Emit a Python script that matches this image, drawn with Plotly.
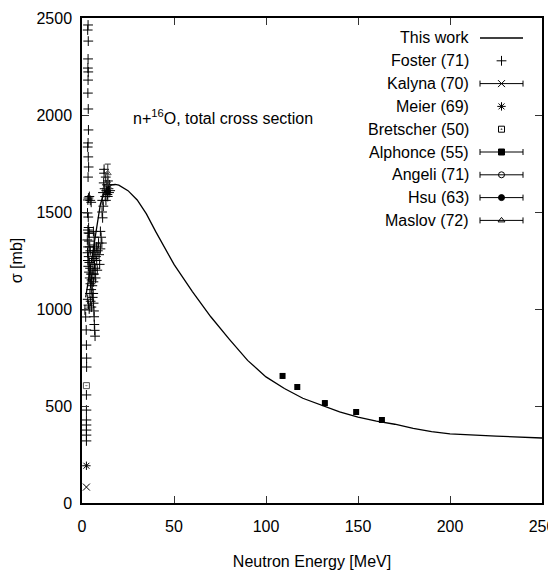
import plotly.graph_objects as go

# ---------------- data ----------------
# Model curve "This work"
curve_E = [2, 3, 4, 5, 6, 8, 10, 12, 14, 16, 18, 20, 25, 30, 35, 40, 45, 50, 60, 70,
           80, 90, 100, 110, 120, 130, 140, 150, 160, 170, 180, 190, 200, 225, 250]
curve_sigma = [1060, 1120, 1180, 1245, 1304, 1440, 1540, 1600, 1630, 1640, 1642, 1638,
               1610, 1562, 1490, 1400, 1315, 1230, 1090, 960, 845, 735, 650, 590, 540,
               503, 470, 443, 422, 406, 385, 368, 356, 345, 335]

# Foster (71)
foster_E = [1.6, 2.0, 2.3, 2.4, 2.5, 2.5, 2.4, 2.4, 2.4, 2.4, 2.4, 2.4, 2.4,
            3.3, 3.1, 3.4, 3.3, 3.2, 3.4, 3.3, 3.2, 3.4, 3.5, 3.3, 3.1, 3.4, 3.6, 3.3,
            3.5, 3.2, 3.0, 3.4, 3.2, 3.5, 2.9, 3.3,
            4.0, 4.5, 5.0, 3.6, 4.0, 3.8, 4.2, 4.5, 6.2, 6.6, 6.8, 6.4, 10.0, 10.4, 10.8,
            3.0, 3.2, 3.4, 3.6, 3.8, 4.0, 4.2, 4.4, 4.6, 4.8, 5.0, 5.2, 5.4, 5.6, 5.8,
            6.0, 6.2, 6.4, 6.6, 6.8, 7.0, 7.2, 7.4, 7.6, 7.8, 8.0, 8.3, 8.6, 9.0, 9.3,
            9.6, 10.0, 3.1, 3.5, 3.9, 4.3, 4.7, 5.1, 5.5, 5.9, 6.1, 6.3, 6.5, 6.6, 6.7,
            6.9, 7.1,
            11.0, 11.4, 11.8, 12.0, 12.3, 12.6, 12.9, 13.2, 13.5, 13.8, 14.1, 14.4,
            14.7, 15.0, 15.3, 12.0, 13.0, 14.0, 11.6, 10.9, 11.2]
foster_sigma = [995, 959, 892, 814, 747, 701, 557, 479, 428, 402, 376, 350, 320,
                2464, 2438, 2381, 2289, 2242, 2222, 2180, 2113, 2031, 1923, 1856, 1835,
                1784, 1732, 1680, 1572, 1562, 1495, 1474, 1407, 1392, 1356, 1320,
                1580, 1560, 1550, 1420, 1390, 1350, 1320, 1300, 1400, 1370, 1330, 1300,
                1400, 1370, 1340,
                1290, 1250, 1220, 1270, 1190, 1240, 1160, 1210, 1130, 1180, 1100, 1150,
                1080, 1120, 1060, 1200, 1140, 1260, 1180, 1230, 1290, 1210, 1160, 1270,
                1320, 1250, 1200, 1300, 1340, 1280, 1230, 1310, 1050, 1020, 1000, 1080,
                1040, 1010, 1180, 1250, 1080, 1030, 990, 960, 920, 890, 860,
                1560, 1600, 1650, 1700, 1620, 1580, 1680, 1610, 1640, 1590, 1660, 1620,
                1600, 1640, 1610, 1720, 1560, 1580, 1530, 1500, 1470]

# Kalyna (70)
kalyna_E = [2.4]
kalyna_sigma = [82]
# Meier (69)
meier_E = [2.4]
meier_sigma = [192]
# Bretscher (50)
bretscher_E = [2.4]
bretscher_sigma = [605]
# Alphonce (55)
alphonce_E = [109, 117, 132, 149, 163]
alphonce_sigma = [655, 598, 515, 469, 428]
alphonce_err = [12, 12, 12, 12, 12]
# Angeli (71)
angeli_E = [14.1]
angeli_sigma = [1625]
# Hsu (63)
hsu_E = [14.0]
hsu_sigma = [1605]
# Maslov (72)
maslov_E = [14.0]
maslov_sigma = [1700]
maslov_err = [47]

legend_names = ["This work", "Foster (71)", "Kalyna (70)", "Meier (69)", "Bretscher (50)",
                "Alphonce (55)", "Angeli (71)", "Hsu (63)", "Maslov (72)"]

x_ticks = [0, 50, 100, 150, 200, 250]
y_ticks = [0, 500, 1000, 1500, 2000, 2500]

# ---------------- figure ----------------
FONT = "Liberation Sans Narrow, Arial Narrow, Liberation Sans, Arial, sans-serif"
FS = 16
# page body adds an 8 px margin; the figure is sized so the plot lands where the
# reference has it (x 82..542, y 18..503 in the window)
OFF = 8
W, H = 556 - OFF, 579 - OFF
L, R, T, B = 82 - OFF, 14, 18 - OFF, 76
PW, PH = W - L - R, H - T - B

fig = go.Figure()

fig.add_trace(go.Scatter(x=curve_E, y=curve_sigma, mode="lines",
                         line=dict(color="black", width=1.3), showlegend=False))

mk = dict(color="black", size=7, line=dict(color="black", width=1))
fig.add_trace(go.Scatter(x=foster_E, y=foster_sigma, mode="markers",
                         marker=dict(symbol="cross-thin", **mk), showlegend=False))
fig.add_trace(go.Scatter(x=kalyna_E, y=kalyna_sigma, mode="markers",
                         marker=dict(symbol="x-thin", **mk), showlegend=False))
fig.add_trace(go.Scatter(x=meier_E, y=meier_sigma, mode="markers",
                         marker=dict(symbol="asterisk", **mk), showlegend=False))
fig.add_trace(go.Scatter(x=bretscher_E, y=bretscher_sigma, mode="markers",
                         marker=dict(symbol="square-open-dot", size=6, color="#555",
                                     line=dict(color="#555", width=1)), showlegend=False))
fig.add_trace(go.Scatter(x=alphonce_E, y=alphonce_sigma, mode="markers",
                         error_y=dict(type="data", array=alphonce_err, color="black",
                                      thickness=1, width=2),
                         marker=dict(symbol="square", size=6, color="black"),
                         showlegend=False))
fig.add_trace(go.Scatter(x=angeli_E, y=angeli_sigma, mode="markers",
                         marker=dict(symbol="circle-open", size=6, color="#444"),
                         showlegend=False))
fig.add_trace(go.Scatter(x=hsu_E, y=hsu_sigma, mode="markers",
                         marker=dict(symbol="circle", size=6, color="black"),
                         showlegend=False))
fig.add_trace(go.Scatter(x=maslov_E, y=maslov_sigma, mode="markers",
                         error_y=dict(type="data", array=maslov_err, color="#333",
                                      thickness=1, width=3),
                         marker=dict(symbol="triangle-up-open", size=6, color="#555"),
                         showlegend=False))

# ---- manual key (gnuplot style: text left, sample right) ----
def px2paper_x(px):
    return (px - OFF - L) / PW

def py2paper_y(py):
    return (T + PH - (py - OFF)) / PH

key_text_x = px2paper_x(471)
key_s0 = px2paper_x(480)
key_s1 = px2paper_x(523)
key_mid = (key_s0 + key_s1) / 2
key_half = (key_s1 - key_s0) / 2
row_y = [py2paper_y(38 + 22.8 * i) for i in range(len(legend_names))]

for name, yy in zip(legend_names, row_y):
    fig.add_annotation(x=key_text_x, y=yy, xref="paper", yref="paper", text=name,
                       showarrow=False, xanchor="right", yanchor="middle",
                       font=dict(family=FONT, size=FS, color="black"))

kx = dict(xaxis="x2", yaxis="y2", showlegend=False, hoverinfo="skip")
fig.add_trace(go.Scatter(x=[key_s0, key_s1], y=[row_y[0]] * 2, mode="lines",
                         line=dict(color="black", width=1.3), **kx))
key_syms = [("cross-thin", False), ("x-thin", True), ("asterisk", False),
            ("square-open-dot", False), ("square", True),
            ("circle-open", True), ("circle", True), ("triangle-up-open", True)]
for (sym, err), yy in zip(key_syms, row_y[1:]):
    tr = dict(x=[key_mid], y=[yy], mode="markers",
              marker=dict(symbol=sym, size=7 if "thin" in sym or sym == "asterisk" else 6,
                          color="black", line=dict(color="black", width=1)))
    if err:
        tr["error_x"] = dict(type="data", array=[key_half], color="black",
                             thickness=1, width=3)
    fig.add_trace(go.Scatter(**tr, **kx))

fig.add_annotation(x=px2paper_x(131), y=py2paper_y(117), xref="paper", yref="paper",
                   text="n+<sup>16</sup>O, total cross section", showarrow=False,
                   xanchor="left", yanchor="middle",
                   font=dict(family=FONT, size=FS, color="black"))

axis_common = dict(showgrid=False, zeroline=False, showline=True, linecolor="black",
                   linewidth=1.5, mirror="ticks", ticks="inside", ticklen=7,
                   tickcolor="#333", tickwidth=1, ticklabeloverflow="allow",
                   tickfont=dict(family=FONT, size=FS, color="black"))

fig.update_layout(
    width=W, height=H, margin=dict(l=L, r=R, t=T, b=B, autoexpand=False),
    paper_bgcolor="white", plot_bgcolor="white",
    xaxis=dict(range=[0, 250], tickvals=x_ticks, **axis_common, ticklabelstandoff=8,
               title=dict(text="Neutron Energy [MeV]", standoff=22,
                          font=dict(family=FONT, size=FS, color="black"))),
    yaxis=dict(range=[0, 2500], tickvals=y_ticks, **axis_common, ticklabelstandoff=5,
               title=dict(text="σ [mb]", standoff=12,
                          font=dict(family=FONT, size=FS, color="black"))),
    xaxis2=dict(overlaying="x", range=[0, 1], visible=False),
    yaxis2=dict(overlaying="y", range=[0, 1], visible=False),
    showlegend=False,
)

fig.write_html("out.html")
